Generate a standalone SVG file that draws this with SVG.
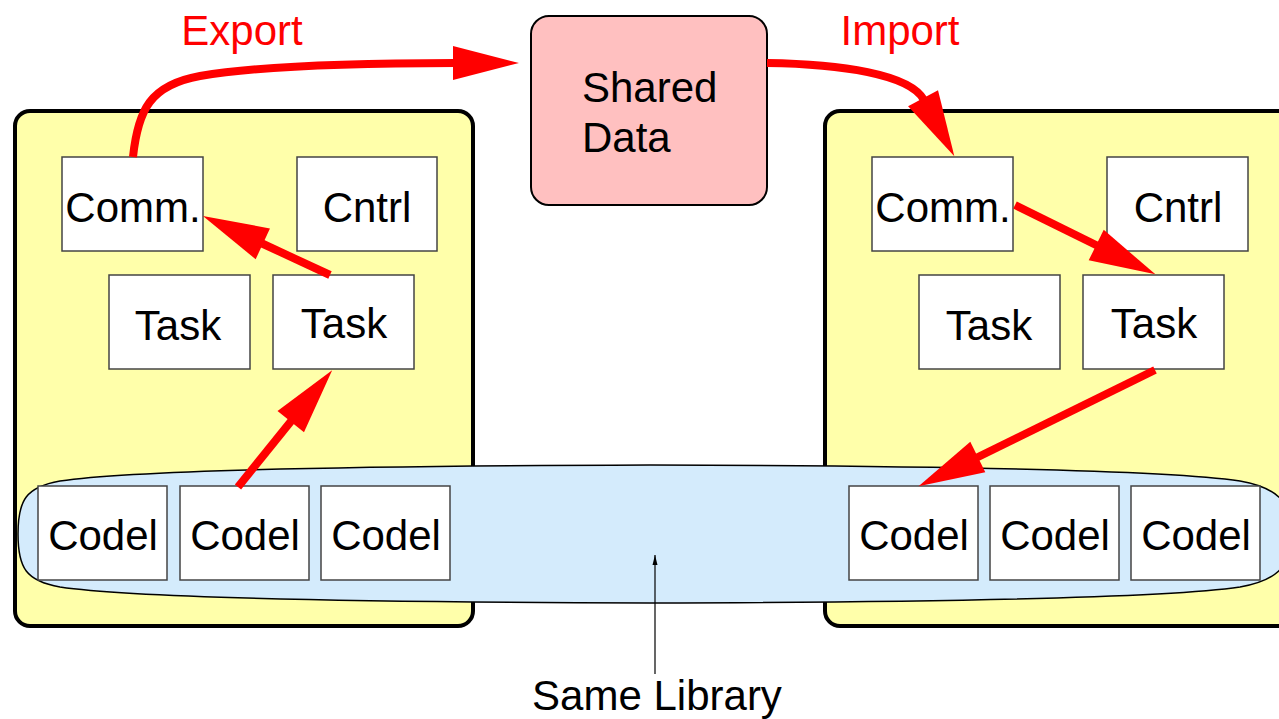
<svg xmlns="http://www.w3.org/2000/svg" width="1279" height="719" viewBox="0 0 1279 719">
<style>
.container{fill:#FFFFAA;stroke:#000;stroke-width:4}
.box{fill:#fff;stroke:#444;stroke-width:1.5}
.lbl{font-family:"Liberation Sans",Arial,sans-serif;font-size:42px;fill:#000;text-anchor:middle}
.red{font-family:"Liberation Sans",Arial,sans-serif;font-size:42px;fill:#FF0000;text-anchor:middle}
.conn{fill:none;stroke:#FF0000;stroke-width:8;marker-end:url(#ah)}
</style>
<defs>
<marker id="ah" markerUnits="userSpaceOnUse" markerWidth="66" markerHeight="34" refX="2" refY="17" orient="auto" viewBox="0 0 66 34" overflow="visible">
<path d="M0,0 L66,17 L0,34 Z" fill="#FF0000"/>
</marker>
<marker id="sa" markerUnits="userSpaceOnUse" markerWidth="10" markerHeight="20" refX="20" refY="5" orient="auto" viewBox="0 0 20 10" overflow="visible">
<path d="M0,0 L20,5 L0,10 Z" fill="#000"/>
</marker>
</defs>
<g id="left-process"><rect class="container" x="15" y="111" width="458" height="515" rx="15"/></g>
<g id="right-process"><rect class="container" x="825" y="111" width="470" height="515" rx="15"/></g>
<g id="library"><path d="M18,534 C18,500 26,487 60,481 C120,472 300,466 650,465 C1000,466 1180,472 1240,481 C1274,487 1292,500 1292,534 C1292,568 1274,581 1240,587 C1180,596 1000,602 650,603 C300,602 120,596 60,587 C26,581 18,568 18,534 Z" fill="#D4EBFC" stroke="#000" stroke-width="1.5"/></g>
<g id="shared-data"><rect x="531" y="16" width="236" height="189" rx="18" fill="#FFC0C0" stroke="#000" stroke-width="2"/>
<text class="lbl" x="582" y="102" style="text-anchor:start">Shared</text>
<text class="lbl" x="582" y="152" style="text-anchor:start">Data</text></g>
<g id="l-comm"><rect class="box" x="62" y="157" width="141" height="94"/><text class="lbl" x="133" y="222">Comm.</text></g>
<g id="l-cntrl"><rect class="box" x="297" y="157" width="140" height="94"/><text class="lbl" x="367" y="222">Cntrl</text></g>
<g id="l-task1"><rect class="box" x="109" y="275" width="141" height="94"/><text class="lbl" x="178" y="340">Task</text></g>
<g id="l-task2"><rect class="box" x="273" y="275" width="141" height="94"/><text class="lbl" x="344" y="338">Task</text></g>
<g id="l-codel1"><rect class="box" x="38" y="486" width="129" height="94"/><text class="lbl" x="103" y="550">Codel</text></g>
<g id="l-codel2"><rect class="box" x="180" y="486" width="129" height="94"/><text class="lbl" x="245" y="550">Codel</text></g>
<g id="l-codel3"><rect class="box" x="321" y="486" width="129" height="94"/><text class="lbl" x="386" y="550">Codel</text></g>
<g id="r-comm"><rect class="box" x="872" y="157" width="141" height="94"/><text class="lbl" x="943" y="222">Comm.</text></g>
<g id="r-cntrl"><rect class="box" x="1107" y="157" width="141" height="94"/><text class="lbl" x="1178" y="222">Cntrl</text></g>
<g id="r-task1"><rect class="box" x="919" y="275" width="141" height="94"/><text class="lbl" x="989" y="340">Task</text></g>
<g id="r-task2"><rect class="box" x="1083" y="275" width="141" height="94"/><text class="lbl" x="1154" y="338">Task</text></g>
<g id="r-codel1"><rect class="box" x="849" y="486" width="129" height="94"/><text class="lbl" x="914" y="550">Codel</text></g>
<g id="r-codel2"><rect class="box" x="990" y="486" width="129" height="94"/><text class="lbl" x="1055" y="550">Codel</text></g>
<g id="r-codel3"><rect class="box" x="1131" y="486" width="129" height="94"/><text class="lbl" x="1196" y="550">Codel</text></g>
<g id="connectors">
<path class="conn" d="M133,157 C138,110 150,85 200,76 C260,66 350,63 455,63"/>
<path class="conn" d="M767,63 C840,64 910,74 924,100"/>
<path class="conn" d="M330,275 L261,243"/>
<path class="conn" d="M238,487 L292,420"/>
<path class="conn" d="M1015,205 L1098,246"/>
<path class="conn" d="M1155,370 L976,458"/>
<path d="M655,674 L655,555" stroke="#000" stroke-width="1.2" fill="none" marker-end="url(#sa)"/>
</g>
<g id="labels">
<text class="red" x="242" y="45">Export</text>
<text class="red" x="900" y="45">Import</text>
<text class="lbl" x="657" y="710">Same Library</text>
</g>
</svg>
